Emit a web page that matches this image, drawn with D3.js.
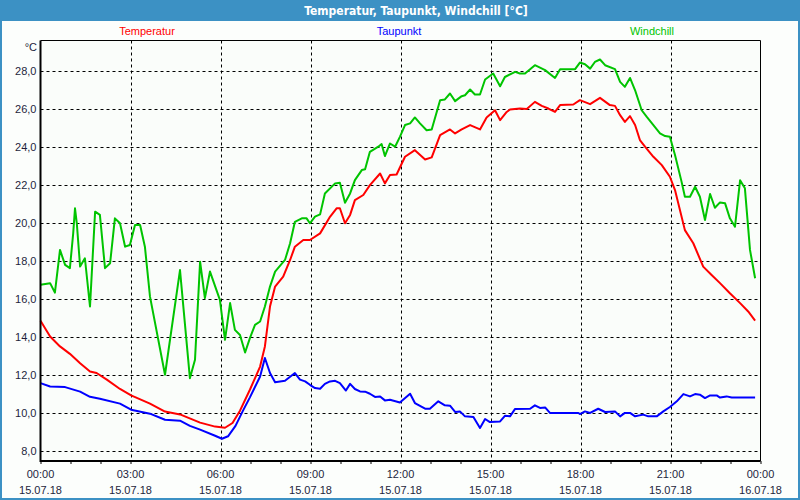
<!DOCTYPE html>
<html><head><meta charset="utf-8">
<script src="https://cdn.jsdelivr.net/npm/d3@7"></script>
<style>body{margin:0;background:#fff}svg{display:block}</style>
</head><body>
<svg id="c" width="800" height="500"></svg>
<script>
// ---------- data (hours since 15.07.18 00:00, °C) ----------
const title = "Temperatur, Taupunkt, Windchill [°C]";
const seriesNames = ["Temperatur", "Taupunkt", "Windchill"];
const seriesColors = ["#ff0000", "#0000ff", "#00c400"];
const yTicks = [8, 10, 12, 14, 16, 18, 20, 22, 24, 26, 28];
const xTickHours = [0, 3, 6, 9, 12, 15, 18, 21, 24];
const xTickTimes = ["00:00","03:00","06:00","09:00","12:00","15:00","18:00","21:00","00:00"];
const xTickDates = ["15.07.18","15.07.18","15.07.18","15.07.18","15.07.18","15.07.18","15.07.18","15.07.18","16.07.18"];

const temperatur = [
[0,14.83],[0.32,14.0],[0.65,13.48],[0.98,13.09],[1.32,12.6],[1.65,12.16],[1.87,12.08],[2.21,11.73],
[2.65,11.24],[3.02,10.9],[3.65,10.47],[4.15,10.05],[4.65,9.9],[5.32,9.47],[5.82,9.26],[6.15,9.2],
[6.4,9.45],[6.65,10.1],[6.98,11.2],[7.32,12.42],[7.48,13.48],[7.65,15.58],[7.82,16.63],[8.09,17.15],[8.32,18.03],
[8.48,18.73],[8.76,19.08],[8.98,19.08],[9.32,19.43],[9.65,20.3],[9.87,20.75],[9.98,20.75],[10.15,19.96],
[10.32,20.4],[10.48,21.18],[10.76,21.45],[10.98,21.97],[11.32,22.58],[11.48,22.06],[11.65,22.5],[11.87,22.53],
[12.15,23.46],[12.48,23.81],[12.82,23.32],[13.04,23.43],[13.32,24.6],[13.65,24.9],[13.82,24.69],[14.04,24.9],
[14.32,25.13],[14.65,24.9],[14.87,25.53],[15.15,25.91],[15.32,25.39],[15.54,25.82],[15.65,25.95],[15.98,26.0],
[16.21,25.97],[16.48,26.35],[16.71,26.14],[16.93,26.0],[17.15,25.82],[17.32,26.18],[17.76,26.21],[17.98,26.44],
[18.32,26.23],[18.65,26.56],[18.98,26.18],[19.15,26.14],[19.32,25.65],[19.48,25.3],[19.65,25.6],[19.82,25.13],
[19.98,24.34],[20.15,23.99],[20.43,23.46],[20.71,23.02],[20.98,22.41],[21.15,21.71],[21.48,19.6],[21.76,18.91],
[22.09,17.68],[22.37,17.24],[22.65,16.81],[22.98,16.28],[23.32,15.76],[23.59,15.32],[23.82,14.84]
];

const taupunkt = [
[0,11.55],[0.32,11.37],[0.82,11.34],[1.32,11.1],[1.65,10.83],[1.98,10.73],[2.65,10.47],[3.02,10.15],
[3.65,9.94],[4.15,9.62],[4.65,9.57],[4.98,9.3],[5.32,9.1],[5.82,8.78],[6.05,8.62],[6.25,8.75],
[6.5,9.3],[6.75,10.1],[6.98,10.8],[7.32,11.9],[7.48,12.87],[7.65,12.08],[7.82,11.6],[8.15,11.67],[8.48,12.08],
[8.65,11.73],[8.82,11.64],[8.98,11.46],[9.15,11.29],[9.32,11.25],[9.48,11.51],[9.65,11.64],[9.82,11.67],
[9.98,11.55],[10.18,11.16],[10.32,11.51],[10.48,11.24],[10.65,11.11],[10.82,11.1],[10.98,10.99],[11.15,10.82],
[11.32,10.85],[11.48,10.64],[11.65,10.67],[11.98,10.53],[12.32,10.99],[12.48,10.5],[12.82,10.2],[12.98,10.2],
[13.26,10.59],[13.48,10.38],[13.65,10.36],[13.82,10.03],[13.98,10.06],[14.15,9.8],[14.43,9.77],[14.65,9.19],
[14.82,9.66],[14.98,9.5],[15.32,9.53],[15.48,9.83],[15.65,9.8],[15.82,10.19],[16.32,10.2],[16.48,10.38],
[16.65,10.24],[16.82,10.27],[16.98,9.98],[17.93,9.98],[17.98,9.92],[18.15,10.06],[18.32,9.98],[18.59,10.2],
[18.82,10.03],[19.15,10.06],[19.32,9.8],[19.48,9.98],[19.65,9.98],[19.82,9.8],[20.09,9.89],[20.26,9.8],
[20.54,9.8],[20.76,10.06],[20.98,10.29],[21.21,10.59],[21.43,10.97],[21.65,10.85],[21.82,10.97],[21.98,10.94],
[22.15,10.76],[22.32,10.9],[22.54,10.9],[22.65,10.79],[22.87,10.85],[23.04,10.79],[23.82,10.79]
];

const windchill = [
[0,16.72],[0.32,16.81],[0.48,16.31],[0.65,18.56],[0.82,17.77],[0.98,17.6],[1.09,19.43],[1.15,20.75],
[1.21,19.96],[1.32,17.68],[1.48,18.12],[1.65,15.58],[1.82,20.57],[1.98,20.4],[2.15,17.6],[2.32,17.86],
[2.48,20.22],[2.65,19.96],[2.82,18.73],[2.98,18.82],[3.15,19.87],[3.32,19.87],[3.48,18.73],[3.65,16.1],
[4.15,11.99],[4.65,17.5],[4.98,11.81],[5.15,12.78],[5.32,17.94],[5.48,16.02],[5.65,17.42],[5.98,15.93],
[6.15,13.83],[6.32,15.76],[6.48,14.35],[6.65,14.08],[6.82,13.16],[6.98,13.92],[7.15,14.61],[7.32,14.79],
[7.48,15.58],[7.65,16.63],[7.82,17.42],[8.15,18.03],[8.32,18.91],[8.48,20.04],[8.71,20.22],[8.87,20.22],
[8.98,19.96],[9.15,20.31],[9.32,20.43],[9.48,21.53],[9.82,22.06],[9.98,22.09],[10.15,21.04],[10.32,21.53],
[10.48,22.23],[10.71,22.76],[10.82,22.8],[10.98,23.72],[11.26,23.99],[11.37,24.13],[11.48,23.5],[11.65,24.16],
[11.82,23.99],[11.98,24.51],[12.15,25.13],[12.32,25.22],[12.48,25.53],[12.65,25.22],[12.87,24.86],[13.04,24.9],
[13.32,26.44],[13.48,26.48],[13.65,26.79],[13.82,26.39],[14.04,26.65],[14.15,26.7],[14.32,27.0],[14.48,26.74],
[14.65,26.74],[14.82,27.53],[15.09,27.84],[15.32,27.17],[15.48,27.66],[15.82,27.93],[15.98,27.84],[16.15,27.84],
[16.48,28.28],[16.82,28.02],[17.15,27.61],[17.32,28.07],[17.82,28.07],[17.98,28.42],[18.15,28.33],[18.32,28.1],
[18.48,28.45],[18.65,28.58],[18.82,28.28],[19.15,28.07],[19.32,27.4],[19.48,27.14],[19.65,27.61],[19.82,26.96],
[20.04,25.91],[20.21,25.56],[20.43,25.13],[20.65,24.69],[20.82,24.55],[20.98,24.51],[21.15,23.55],[21.37,22.14],
[21.48,21.36],[21.65,21.36],[21.82,21.88],[21.98,21.36],[22.15,20.13],[22.32,21.5],[22.48,20.78],[22.65,21.06],
[22.82,21.01],[22.98,20.22],[23.15,19.78],[23.32,22.23],[23.48,21.8],[23.65,18.56],[23.82,17.07]
];

// ---------- drawing ----------
const svg = d3.select("#c");
const W = 800, H = 500;
const frameBlue = "#3c91c4";
const pLeft = 40.5, pRight = 760.5, pTop = 40.5, pBottom = 461;

svg.append("rect").attr("x",0).attr("y",0).attr("width",W).attr("height",H).attr("fill","#fcfefc");
svg.append("rect").attr("x",0).attr("y",0).attr("width",W).attr("height",21).attr("fill",frameBlue);
svg.append("rect").attr("x",1).attr("y",1).attr("width",W-2).attr("height",H-2)
  .attr("fill","none").attr("stroke",frameBlue).attr("stroke-width",2);

svg.append("text").attr("x",416).attr("y",15).attr("text-anchor","middle")
  .attr("font-family","'DejaVu Sans Condensed','Liberation Sans',sans-serif").attr("font-weight","bold")
  .attr("font-size","12px").attr("fill","#ffffff").text(title);

const legendX = [147, 399, 652];
svg.selectAll("text.leg").data(seriesNames).enter().append("text").attr("class","leg")
  .attr("x",(d,i)=>legendX[i]).attr("y",35).attr("text-anchor","middle")
  .attr("font-family","'Liberation Sans',sans-serif").attr("font-size","11px")
  .attr("fill",(d,i)=>seriesColors[i]).text(d=>d);

const x = d3.scaleLinear().domain([0,24]).range([pLeft,pRight]);
const y = d3.scaleLinear().domain([7.45,29.58]).range([pBottom,pTop]);

svg.append("rect").attr("x",pLeft).attr("y",pTop).attr("width",pRight-pLeft).attr("height",pBottom-pTop).attr("fill","#fafdfa");

const g = svg.append("g");
g.selectAll("line.hg").data(yTicks).enter().append("line")
  .attr("x1",pLeft).attr("x2",pRight).attr("y1",d=>Math.round(y(d))+0.5).attr("y2",d=>Math.round(y(d))+0.5)
  .attr("stroke","#000").attr("stroke-width",1).attr("stroke-dasharray","3,3");
g.selectAll("line.vg").data(xTickHours.slice(1,-1)).enter().append("line")
  .attr("x1",d=>Math.round(x(d))+0.5).attr("x2",d=>Math.round(x(d))+0.5).attr("y1",pTop).attr("y2",pBottom)
  .attr("stroke","#000").attr("stroke-width",1).attr("stroke-dasharray","3,3");

const line = d3.line().x(d=>x(d[0])).y(d=>y(d[1]));
[temperatur, taupunkt, windchill].forEach((s,i)=>{
  svg.append("path").datum(s).attr("d",line).attr("fill","none")
    .attr("stroke",seriesColors[i]).attr("stroke-width",2).attr("stroke-linejoin","round");
});

svg.append("line").attr("x1",pLeft).attr("x2",pRight).attr("y1",pTop).attr("y2",pTop).attr("stroke","#000").attr("stroke-width",1);
svg.append("line").attr("x1",pRight).attr("x2",pRight).attr("y1",pTop).attr("y2",pBottom).attr("stroke","#000").attr("stroke-width",1);

const yAxis = d3.axisLeft(y).tickValues(yTicks).tickSize(0).tickPadding(4)
  .tickFormat(d=>d3.format(".1f")(d).replace(".",","));
const ya = svg.append("g").attr("transform",`translate(${pLeft},0)`).call(yAxis);
ya.select(".domain").attr("stroke","#000").attr("stroke-width",2).attr("d",`M0,${pTop}V${pBottom+1}`);
ya.selectAll("text").attr("font-family","'Liberation Sans',sans-serif").attr("font-size","11px").attr("fill","#1e1e3c");

const hours = d3.range(0,25);
const xAxis = d3.axisBottom(x).tickValues(hours).tickSize(3).tickFormat("");
const xa = svg.append("g").attr("transform",`translate(0,${pBottom})`).call(xAxis);
xa.select(".domain").attr("stroke","#000").attr("stroke-width",2).attr("d",`M${pLeft},0H${pRight}`);
xa.selectAll(".tick line").attr("stroke","#000");

const lab = svg.append("g").attr("font-family","'Liberation Sans',sans-serif").attr("font-size","11px").attr("fill","#1e1e3c").attr("text-anchor","middle");
lab.selectAll("text.t").data(xTickHours).enter().append("text").attr("x",d=>x(d)).attr("y",478).text((d,i)=>xTickTimes[i]);
lab.selectAll("text.d").data(xTickHours).enter().append("text").attr("x",d=>x(d)).attr("y",494).text((d,i)=>xTickDates[i]);

svg.append("text").attr("x",37).attr("y",51).attr("text-anchor","end")
  .attr("font-family","'Liberation Sans',sans-serif").attr("font-size","11px").attr("fill","#1e1e3c").text("°C");
</script>
</body></html>
